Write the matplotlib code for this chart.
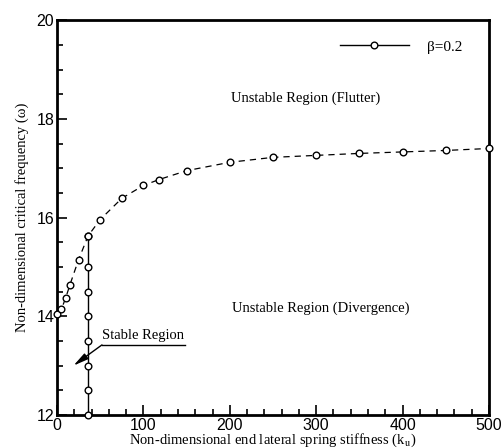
import numpy as np
import matplotlib.pyplot as plt
from matplotlib.ticker import MultipleLocator

# flutter / divergence boundary (dashed curve)
k_curve = [0, 5, 10, 15, 25, 36, 50, 75, 100, 118, 150, 200, 250, 300, 350, 400, 450, 500]
w_curve = [14.05, 14.14, 14.37, 14.64, 15.15, 15.63, 15.96, 16.39, 16.65, 16.77, 16.95,
           17.12, 17.22, 17.26, 17.30, 17.33, 17.36, 17.40]

# stable region boundary (vertical line)
k_vert = [36, 36, 36, 36, 36, 36, 36, 36]
w_vert = [12.0, 12.5, 13.0, 13.5, 14.0, 14.5, 15.0, 15.63]

plt.rcParams['mathtext.fontset'] = 'stix'
serif = 'Liberation Serif'
sans = 'Liberation Sans'

fig = plt.figure(figsize=(5.01, 4.48), dpi=100)
ax = fig.add_axes([0.1138, 0.0737, 0.8622, 0.8813])

ax.plot(k_curve, w_curve, ls=(0, (5, 4)), color='black', lw=0.9,
        marker='o', ms=4.8, mfc='white', mec='black', mew=1.0, clip_on=False, zorder=3)
ax.plot(k_vert, w_vert, color='black', lw=1.0, marker='o', ms=4.8, mfc='white',
        mec='black', mew=1.0, clip_on=False, zorder=4, label='\u03b2=0.2')

ax.set_xlim(0, 500)
ax.set_ylim(12, 20)
ax.xaxis.set_major_locator(MultipleLocator(100))
ax.xaxis.set_minor_locator(MultipleLocator(20))
ax.yaxis.set_major_locator(MultipleLocator(2))
ax.yaxis.set_minor_locator(MultipleLocator(0.5))
ax.tick_params(which='both', direction='in', width=1.2)
ax.tick_params(which='major', length=7, labelsize=11.5, pad=2)
ax.tick_params(which='minor', length=4)
for lab in ax.get_xticklabels() + ax.get_yticklabels():
    lab.set_fontfamily(sans)
for sp in ax.spines.values():
    sp.set_linewidth(2)

ax.set_xlabel(r'Non-dimensional end lateral spring stiffness (k$_\mathrm{u}$)',
              family=serif, fontsize=10.5, labelpad=-1)
ax.set_ylabel('Non-dimensional critical frequency (\u03c9)',
              family=serif, fontsize=10.5, labelpad=5)

ax.text(288, 18.42, 'Unstable Region (Flutter)', family=serif, fontsize=10.5,
        ha='center', va='center')
ax.text(305, 14.17, 'Unstable Region (Divergence)', family=serif, fontsize=10.5,
        ha='center', va='center')
ax.text(100, 13.47, 'Stable Region', family=serif, fontsize=10.5,
        ha='center', va='bottom')
ax.plot([52, 148], [13.42, 13.42], color='black', lw=1.0)
ax.annotate('', xy=(19, 13.0), xytext=(52, 13.42),
            arrowprops=dict(arrowstyle='-|>,head_length=0.9,head_width=0.2',
                            color='black', lw=1.0, shrinkA=0, shrinkB=0))

leg = ax.legend(loc='upper right', frameon=False, prop={'family': serif, 'size': 11},
                handlelength=4.5, handletextpad=1.2, bbox_to_anchor=(0.97, 0.985))

fig.savefig('out.png', dpi=100)
